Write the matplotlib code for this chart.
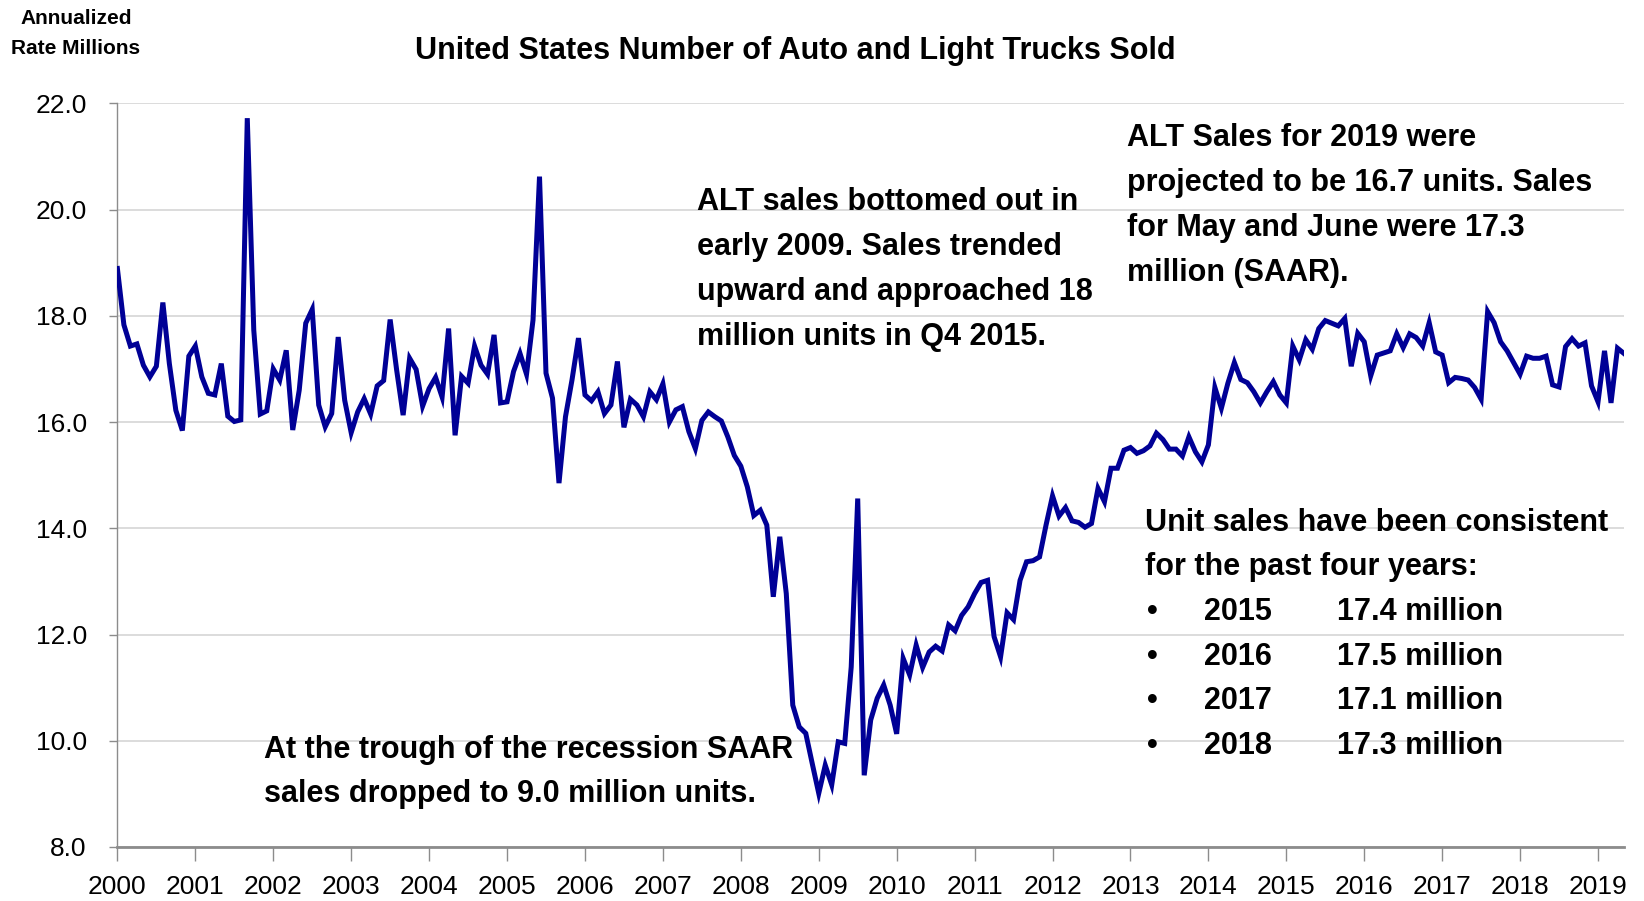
import numpy as np
import matplotlib
matplotlib.use("Agg")
import matplotlib.pyplot as plt
from matplotlib import font_manager

# monthly SAAR, Jan 2000 .. May 2019 (millions)
sales = [
    18.89, 17.83, 17.43, 17.47, 17.07, 16.85, 17.05, 18.25, 17.10, 16.22, 15.84, 17.24,
    17.43, 16.85, 16.54, 16.51, 17.10, 16.11, 16.01, 16.04, 21.72, 17.73, 16.15, 16.21,
    17.00, 16.79, 17.35, 15.85, 16.60, 17.86, 18.12, 16.32, 15.91, 16.16, 17.60, 16.41,
    15.80, 16.19, 16.44, 16.15, 16.68, 16.78, 17.93, 16.98, 16.13, 17.20, 16.99, 16.30,
    16.63, 16.84, 16.47, 17.76, 15.75, 16.86, 16.73, 17.43, 17.07, 16.90, 17.64, 16.36,
    16.38, 16.95, 17.29, 16.90, 17.92, 20.62, 16.92, 16.45, 14.85, 16.10, 16.79, 17.58,
    16.51, 16.40, 16.57, 16.16, 16.32, 17.14, 15.90, 16.43, 16.32, 16.10, 16.57, 16.42,
    16.72, 16.00, 16.23, 16.29, 15.82, 15.50, 16.03, 16.19, 16.10, 16.02, 15.72, 15.37,
    15.17, 14.78, 14.24, 14.34, 14.06, 12.71, 13.84, 12.77, 10.67, 10.26, 10.14, 9.57,
    9.01, 9.54, 9.17, 9.98, 9.95, 11.39, 14.56, 9.35, 10.39, 10.80, 11.05, 10.67,
    10.13, 11.55, 11.24, 11.80, 11.38, 11.67, 11.78, 11.69, 12.18, 12.07, 12.36, 12.52,
    12.77, 12.98, 13.02, 11.96, 11.58, 12.41, 12.28, 13.02, 13.37, 13.39, 13.46, 14.06,
    14.61, 14.23, 14.39, 14.14, 14.11, 14.02, 14.09, 14.75, 14.50, 15.13, 15.13, 15.47,
    15.52, 15.41, 15.46, 15.55, 15.79, 15.67, 15.49, 15.49, 15.36, 15.72, 15.44, 15.25,
    15.57, 16.65, 16.26, 16.73, 17.12, 16.80, 16.74, 16.57, 16.36, 16.57, 16.76, 16.51,
    16.36, 17.43, 17.17, 17.55, 17.37, 17.76, 17.91, 17.86, 17.81, 17.95, 17.05, 17.67,
    17.51, 16.87, 17.26, 17.30, 17.34, 17.66, 17.40, 17.66, 17.59, 17.43, 17.87, 17.32,
    17.26, 16.74, 16.84, 16.82, 16.79, 16.65, 16.43, 18.08, 17.87, 17.51, 17.34, 17.12,
    16.90, 17.24, 17.20, 17.20, 17.24, 16.70, 16.66, 17.42, 17.57, 17.43, 17.49, 16.68,
    16.38, 17.34, 16.36, 17.39, 17.29,
]
years = list(range(2000, 2020))
y_ticks = [8.0, 10.0, 12.0, 14.0, 16.0, 18.0, 20.0, 22.0]

bullet_years = ["2015", "2016", "2017", "2018"]
bullet_values = ["17.4 million", "17.5 million", "17.1 million", "17.3 million"]

available = {f.name for f in font_manager.fontManager.ttflist}
narrow = "Liberation Sans Narrow" if "Liberation Sans Narrow" in available else "Liberation Sans"
bold_font = "Liberation Sans"

W, H = 1644, 901
fig = plt.figure(figsize=(W / 100, H / 100), dpi=100)
ax = fig.add_axes([117.4 / W, 1 - 847 / H, (1624 - 117.4) / W, (847 - 103.3) / H])

x = np.arange(len(sales))
ax.plot(x, sales, color="#000096", lw=3.6, solid_joinstyle="miter", zorder=3)

ax.set_xlim(0, len(sales) - 1)
ax.set_ylim(8, 22)
ax.set_yticks(y_ticks)
ax.set_yticklabels(["%.1f" % v for v in y_ticks], family=narrow, fontsize=19)
ax.set_xticks([12 * (yr - 2000) for yr in years])
ax.set_xticklabels([str(yr) for yr in years], family=narrow, fontsize=19)
ax.grid(axis="y", color="#d9d9d9", lw=1.3)
ax.set_axisbelow(True)

for s in ["top", "right"]:
    ax.spines[s].set_visible(False)
ax.spines["left"].set_color("#8c8c8c")
ax.spines["left"].set_linewidth(1.0)
ax.spines["bottom"].set_color("#8c8c8c")
ax.spines["bottom"].set_linewidth(2.0)
ax.tick_params(axis="y", direction="out", length=6, width=1, color="#8c8c8c", pad=16)
ax.tick_params(axis="x", direction="out", length=10, width=1, color="#8c8c8c", pad=10)


def px(xp, yp):
    return xp / W, 1 - yp / H


fig.text(*px(76, 19), "Annualized", ha="center", va="center", family=narrow,
         fontsize=15, fontweight="bold")
fig.text(*px(76, 49), "Rate Millions", ha="center", va="center", family=narrow,
         fontsize=15, fontweight="bold")
fig.text(*px(795, 51), "United States Number of Auto and Light Trucks Sold",
         ha="center", va="center", family=narrow, fontsize=22, fontweight="bold")

note_kw = dict(family=bold_font, fontsize=22, fontweight="bold", va="center", ha="left")
for i, line in enumerate(["ALT sales bottomed out in", "early 2009. Sales trended",
                          "upward and approached 18", "million units in Q4 2015."]):
    fig.text(*px(697, 202 + 45 * i), line, **note_kw)
for i, line in enumerate(["ALT Sales for 2019 were", "projected to be 16.7 units. Sales",
                          "for May and June were 17.3", "million (SAAR)."]):
    fig.text(*px(1127, 138 + 45 * i), line, **note_kw)
for i, line in enumerate(["Unit sales have been consistent", "for the past four years:"]):
    fig.text(*px(1145, 523 + 44 * i), line, **note_kw)
for i, (yr, val) in enumerate(zip(bullet_years, bullet_values)):
    yp = 612 + 44.7 * i
    fig.text(*px(1147, yp), "\u2022", **note_kw)
    fig.text(*px(1204, yp), yr, **note_kw)
    fig.text(*px(1337, yp), val, **note_kw)
for i, line in enumerate(["At the trough of the recession SAAR",
                          "sales dropped to 9.0 million units."]):
    fig.text(*px(264, 750 + 44 * i), line, **note_kw)

fig.savefig("out.png", dpi=100)
